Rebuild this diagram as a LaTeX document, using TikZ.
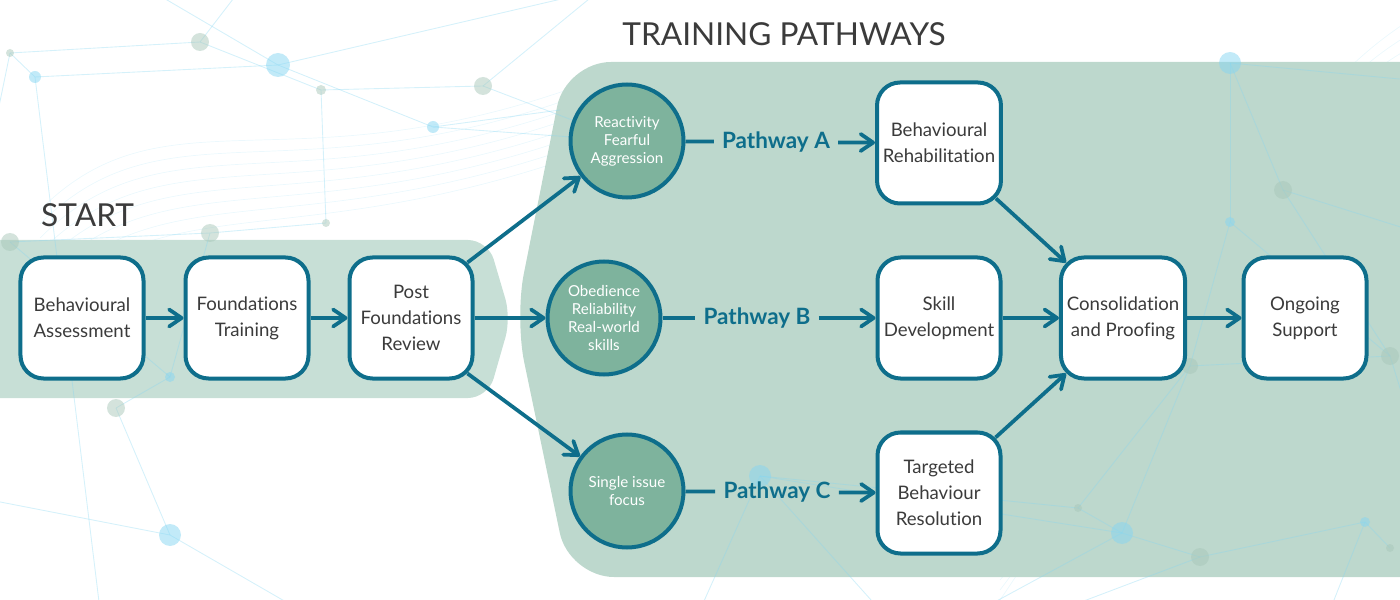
\documentclass[tikz,border=0pt]{standalone}
\usepackage{fontspec}
\setmainfont{Lato}[Ligatures=NoCommon]
\usetikzlibrary{arrows.meta,calc}

\definecolor{pathblue}{HTML}{0E6E8B}
\definecolor{bandgreen}{HTML}{C7DFD6}
\definecolor{regiongreen}{HTML}{BDD8CD}
\definecolor{circlegreen}{HTML}{7EB39D}
\definecolor{inkgray}{HTML}{3B3B3B}
\definecolor{netblue}{HTML}{86D6F2}
\definecolor{netgreen}{HTML}{A9C8BA}

\tikzset{
  stepbox/.style={draw=pathblue, line width=0.8mm, fill=white, rounded corners=4.6mm,
    minimum width=24.6mm, minimum height=24.2mm, align=center, text=inkgray,
    font=\fontsize{10.6}{14.8}\selectfont},
  focus/.style={circle, draw=pathblue, line width=0.8mm, fill=circlegreen,
    minimum size=22.6mm, inner sep=0pt, align=center, text=white,
    font=\fontsize{8.6}{10.2}\selectfont},
  pathlabel/.style={text=pathblue, inner xsep=1.6mm, font=\bfseries\fontsize{12.8}{15}\selectfont},
  link/.style={draw=pathblue, line width=0.75mm},
  flow/.style={link, -{Straight Barb[length=2.5mm,width=3.4mm,round]}},
  heading/.style={text=inkgray, font=\fontsize{18}{20}\selectfont},
  netline/.style={draw=netblue, draw opacity=0.35, line width=0.5pt},
  netwave/.style={draw=netblue, draw opacity=0.16, line width=0.4pt}
}

\begin{document}
\begin{tikzpicture}[x=0.2mm,y=-0.2mm]
\useasboundingbox (0,0) rectangle (1400,600);
\clip (0,0) rectangle (1400,600);

% faint waves behind everything
\foreach \k in {0,...,7}
  \draw[netwave] (40,210+\k*14) .. controls (170,80+\k*14) and (300,200+\k*9) .. (620,70+\k*10);
\foreach \k in {0,...,7}
  \draw[netwave] (1000,600-\k*10) .. controls (1150,380+\k*12) and (1250,120+\k*8) .. (1410,20+\k*14);

% start band and pathway region
\fill[bandgreen, rounded corners=4mm] (-40,240) -- (488,240) -- (511,318) -- (488,398) -- (-40,398) -- cycle;
\fill[regiongreen, rounded corners=9mm] (1460,62) -- (566,62) -- (515,318) -- (569,577) -- (1460,577) -- cycle;

% network points
\foreach \n/\x/\y in {1/10/53, 2/35/77, 3/200/42, 4/278/65, 5/321/90, 6/483/86, 7/433/127,
    8/10/242, 9/210/233, 10/326/223, 11/170/377, 12/116/408, 13/170/535,
    14/1230/63, 15/1283/190, 16/1230/222, 17/1190/366, 18/1390/356, 19/1122/533,
    20/1200/557, 21/1078/508, 22/1365/522, 23/1390/548, 24/760/476,
    25/-10/150, 26/150/-10, 27/240/-10, 28/600/-10, 29/560/110, 30/660/-10,
    31/1410/80, 32/1410/230, 33/1410/420, 34/980/610, 35/700/610, 36/880/610,
    37/1060/610, 38/1330/610, 39/-10/500, 40/100/610, 41/300/610, 42/627/141}
  \coordinate (n\n) at (\x,\y);
\foreach \a/\b in {1/3, 2/4, 1/2, 3/5, 4/7, 5/6, 3/27, 4/26, 4/28, 6/28, 7/29, 5/10,
    2/40, 1/25, 8/9, 9/10, 8/11, 11/12, 12/13, 13/41, 13/39, 11/9, 7/42, 6/42,
    14/15, 14/16, 15/18, 16/17, 15/32, 14/31, 17/19, 17/18, 19/20, 20/22, 22/23,
    21/19, 24/21, 24/35, 24/36, 19/34, 20/37, 22/38, 18/33, 16/18, 21/17, 24/19}
  \draw[netline] (n\a) -- (n\b);
\foreach \n/\r/\c in {1/4/netgreen, 2/6/netblue, 3/9/netgreen, 4/12/netblue, 5/5/netgreen,
    6/9/netgreen, 7/6/netblue, 8/9/netgreen, 9/9/netgreen, 10/4/netgreen, 11/5/netblue,
    12/9/netgreen, 13/11/netblue, 14/11/netblue, 15/9/netgreen, 16/5/netblue,
    17/8/netgreen, 18/9/netgreen, 19/11/netblue, 20/9/netgreen, 21/4/netgreen,
    22/5/netblue, 23/4/netgreen, 24/11/netblue}
  \fill[\c, fill opacity=0.5] (n\n) circle (\r);

% headings
\node[heading, anchor=base west] (start) at (35,227) {START};
\node[heading, anchor=base] (pathways) at (784,46) {TRAINING PATHWAYS};

% steps
\node[stepbox] (assess) at (82,318) {Behavioural\\Assessment};
\node[stepbox] (found) at (247,318) {Foundations\\Training};
\node[stepbox] (review) at (411,318) {Post\\Foundations\\Review};
\node[focus] (reactive) at (627,141) {Reactivity\\Fearful\\Aggression};
\node[focus] (obedience) at (604,318) {Obedience\\Reliability\\Real-world\\skills};
\node[focus] (single) at (627,491) {Single issue\\focus};
\node[stepbox] (rehab) at (939,143) {Behavioural\\Rehabilitation};
\node[stepbox] (skill) at (939,318) {Skill\\Development};
\node[stepbox] (targeted) at (939,493) {Targeted\\Behaviour\\Resolution};
\node[stepbox] (proof) at (1123,318) {Consolidation\\and Proofing};
\node[stepbox] (support) at (1305,318) {Ongoing\\Support};

\node[pathlabel] (pa) at (776,142) {Pathway A};
\node[pathlabel] (pb) at (757,318) {Pathway B};
\node[pathlabel] (pc) at (777,492) {Pathway C};

% connectors
\draw[flow] (assess) -- (found);
\draw[flow] (found) -- (review);
\draw[flow] (review) -- (obedience);
\draw[flow] ($(review.north east)+(-7,7)$) -- (reactive);
\draw[flow] ($(review.south east)+(-7,-7)$) -- (single);
\draw[link] (reactive) -- (pa);
\draw[flow] (pa) -- (rehab);
\draw[link] (obedience) -- (pb);
\draw[flow] (pb) -- (skill);
\draw[link] (single) -- (pc);
\draw[flow] (pc) -- (targeted);
\draw[flow] ($(rehab.south east)+(-7,-7)$) -- ($(proof.north west)+(7,7)$);
\draw[flow] (skill) -- (proof);
\draw[flow] ($(targeted.north east)+(-7,7)$) -- ($(proof.south west)+(7,-7)$);
\draw[flow] (proof) -- (support);
\end{tikzpicture}
\end{document}
